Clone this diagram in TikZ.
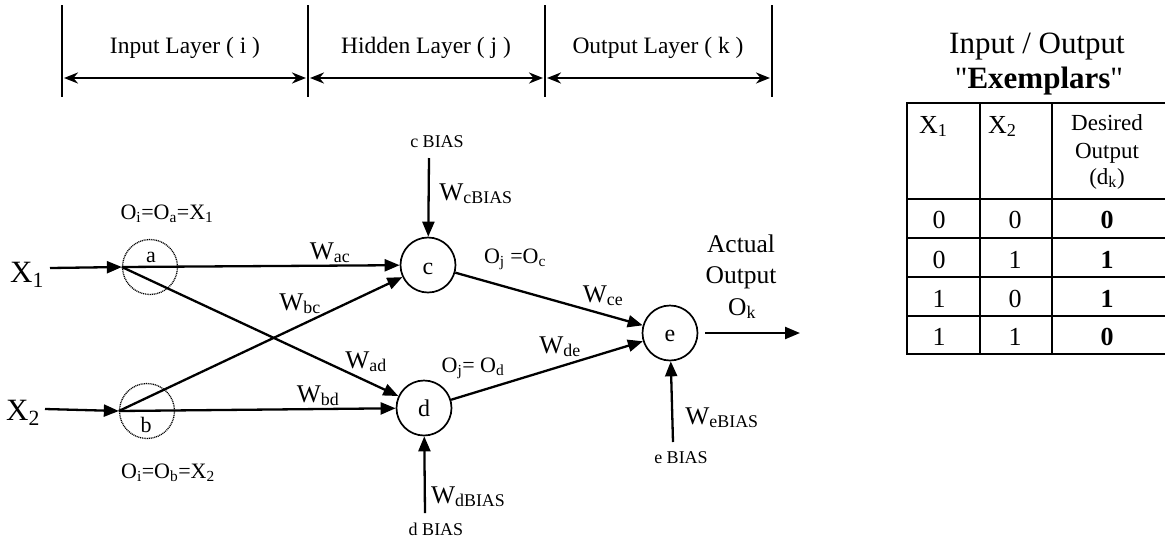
\documentclass[tikz,border=0pt]{standalone}
\usepackage{fontspec}
\setmainfont{Liberation Serif}[Ligatures=TeXOff]
\usetikzlibrary{arrows.meta}
\newcommand\fsz[1]{\fontsize{#1}{#1}\selectfont}
\newcommand\sbs[1]{\textsubscript{#1}}

\begin{document}
\begin{tikzpicture}[x=1pt,y=-1pt,
  line width=2.3pt,
  arr/.style={-{Triangle[length=15pt,width=12pt]}},
  dblarr/.style={line width=2.3pt,{Stealth[length=14pt,width=11pt]}-{Stealth[length=14pt,width=11pt]}},
  sepline/.style={line width=1.5pt},
  inode/.style={circle,draw,line width=1.3pt,dash pattern=on 1pt off 0.8pt,minimum size=55pt,inner sep=0pt},
  hnode/.style={circle,draw,line width=1.7pt,minimum size=55pt,inner sep=0pt},
  txt/.style={inner sep=0pt,anchor=base},
  toplbl/.style={txt,font=\fsz{23.5}},
  xlbl/.style={txt,font=\fsz{31}},
  olbl/.style={txt,font=\fsz{22}},
  wlbl/.style={txt,font=\fsz{25.5}},
  blbl/.style={txt,font=\fsz{18}},
  nlbl/.style={txt,font=\fsz{24}},
  ttl/.style={txt,font=\fsz{31}},
  cell/.style={txt,font=\fsz{26}},
  tab/.style={line width=2.3pt}
]
\useasboundingbox (0,0) rectangle (1165,542);

% ---- layer scale along the top ----
\foreach \n/\x in {s0/62,s1/308,s2/545,s3/772}{
  \coordinate (\n t) at (\x,5);
  \coordinate (\n b) at (\x,97);
  \coordinate (\n m) at (\x,78);
  \draw[sepline] (\n t) -- (\n b);
}
\draw[dblarr] ([xshift=2pt]s0m) -- ([xshift=-2pt]s1m);
\draw[dblarr] ([xshift=2pt]s1m) -- ([xshift=-2pt]s2m);
\draw[dblarr] ([xshift=2pt]s2m) -- ([xshift=-2pt]s3m);
\node[toplbl] (lin) at (185,53) {Input Layer ( i )};
\node[toplbl] (lhid) at (426,53) {Hidden Layer ( j )};
\node[toplbl] (lout) at (658,53) {Output Layer ( k )};

% ---- neurons ----
\node[inode] (a) at (150,267) {};
\node[inode] (b) at (147,411) {};
\node[hnode] (c) at (428,265) {};
\node[hnode] (d) at (424,408) {};
\node[hnode] (e) at (670,333) {};
\node[olbl] (na) at (151,262) {a};
\node[olbl] (nb) at (146,432) {b};
\node[nlbl] (nc) at (428,274) {c};
\node[nlbl] (nd) at (424,416) {d};
\node[nlbl] (ne) at (670,341) {e};

% ---- inputs ----
\coordinate (x1s) at (50,268);
\coordinate (x2s) at (45,409);
\node[xlbl] (X1) at (27,282) {X\sbs{1}};
\node[xlbl] (X2) at (23,420) {X\sbs{2}};
\draw[arr] (x1s) -- (a.west);
\draw[arr] (x2s) -- (b.west);
\node[olbl] (oa) at (167,219) {O\sbs{i}=O\sbs{a}=X\sbs{1}};
\node[olbl] (ob) at (168,478) {O\sbs{i}=O\sbs{b}=X\sbs{2}};

% ---- weighted connections ----
\draw[arr] (a.west) -- (c);
\draw[arr] (a.west) -- (d);
\draw[arr] (b.west) -- (c);
\draw[arr] (b.west) -- (d);
\draw[arr] (c) -- (e);
\draw[arr] (d) -- (e);
\node[wlbl] (wac) at (330,259) {W\sbs{ac}};
\node[wlbl] (wbc) at (300,310) {W\sbs{bc}};
\node[wlbl] (wad) at (366,368) {W\sbs{ad}};
\node[wlbl] (wbd) at (318,402) {W\sbs{bd}};
\node[wlbl] (wce) at (603,302) {W\sbs{ce}};
\node[wlbl] (wde) at (560,353) {W\sbs{de}};
\node[olbl] (ojc) at (515,263) {O\sbs{j} =O\sbs{c}};
\node[olbl] (ojd) at (473,372) {O\sbs{j}= O\sbs{d}};

% ---- bias inputs ----
\coordinate (cb) at (429,158);
\coordinate (db) at (425,513);
\coordinate (eb) at (673,442);
\draw[arr] (cb) -- (c);
\draw[arr] (db) -- (d);
\draw[arr] (eb) -- (e);
\node[blbl] (cbt) at (437,147) {c BIAS};
\node[blbl] (dbt) at (436,535) {d BIAS};
\node[blbl] (ebt) at (681,463) {e BIAS};
\node[wlbl] (wcb) at (476,200) {W\sbs{cBIAS}};
\node[wlbl,anchor=base west] (wdb) at (430,503) {W\sbs{dBIAS}};
\node[wlbl] (web) at (722,424) {W\sbs{eBIAS}};

% ---- output ----
\coordinate (out) at (800,333);
\draw[arr,shorten <=7pt] (e) -- (out);
\node[wlbl] (act1) at (741,252) {Actual};
\node[wlbl] (act2) at (741,283) {Output};
\node[wlbl] (act3) at (742,315) {O\sbs{k}};

% ---- exemplar table ----
\node[ttl] (tt1) at (1037,53) {Input / Output};
\node[ttl] (tt2) at (1039,88) {"\textbf{Exemplars}"};
\draw[tab] (907,103) rectangle (1180,354);
\draw[tab] (980,103) -- (980,354);
\draw[tab] (1052,103) -- (1052,354);
\foreach \y in {199,238,277,316}{\draw[tab] (907,\y) -- (1180,\y);}
\node[cell,anchor=base west] (h1) at (918,133) {X\sbs{1}};
\node[cell,anchor=base west] (h2) at (987,133) {X\sbs{2}};
\node[cell,font=\fsz{23}] (h3a) at (1107,130) {Desired};
\node[cell,font=\fsz{23}] (h3b) at (1107,158) {Output};
\node[cell,font=\fsz{23}] (h3c) at (1107,184) {(d\sbs{k})};
\foreach \r/\yb/\p/\q/\s in {1/228/0/0/0,2/268/0/1/1,3/307/1/0/1,4/345/1/1/0}{
  \node[cell] (r\r a) at (939,\yb) {\p};
  \node[cell] (r\r b) at (1015,\yb) {\q};
  \node[cell] (r\r c) at (1107,\yb) {\textbf{\s}};
}
\end{tikzpicture}
\end{document}
